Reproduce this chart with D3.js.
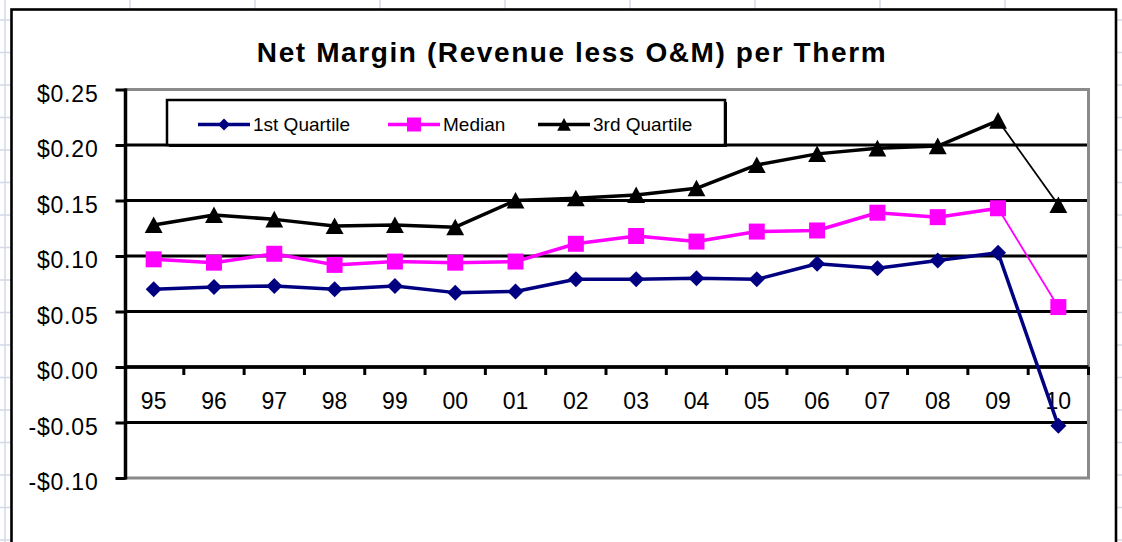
<!DOCTYPE html>
<html>
<head>
<meta charset="utf-8">
<script src="https://cdn.jsdelivr.net/npm/d3@7"></script>
<style>
  html, body { margin: 0; padding: 0; background: #fff; }
  svg { display: block; font-family: "Liberation Sans", Arial, sans-serif; }
</style>
</head>
<body>
<div id="chart"></div>
<script>
// データ
const years = ['95', '96', '97', '98', '99', '00', '01', '02', '03', '04', '05', '06', '07', '08', '09', '10'];
const firstQuartile = [0.070, 0.072, 0.073, 0.070, 0.073, 0.067, 0.068, 0.079, 0.079, 0.080, 0.079, 0.093, 0.089, 0.096, 0.103, -0.053];
const median = [0.097, 0.094, 0.102, 0.092, 0.095, 0.094, 0.095, 0.111, 0.118, 0.113, 0.122, 0.123, 0.139, 0.135, 0.143, 0.054];
const thirdQuartile = [0.128, 0.137, 0.133, 0.127, 0.128, 0.126, 0.150, 0.152, 0.155, 0.161, 0.182, 0.192, 0.197, 0.199, 0.222, 0.146];
const yTicks = [0.25, 0.20, 0.15, 0.10, 0.05, 0.00, -0.05, -0.10];

const W = 1122, H = 542;
const plot = { left: 123.5, right: 1088.5, top: 89.5, bottom: 478 };

const svg = d3.select('#chart').append('svg')
    .attr('width', W)
    .attr('height', H);

svg.append('rect').attr('width', W).attr('height', H).attr('fill', '#fff');

// 背景のスプレッドシート罫線
const sheet = svg.append('g').attr('stroke', '#d3d9e6').attr('stroke-width', 1.5);
for (let gx = 5; gx < W; gx += 125) {
    sheet.append('line').attr('x1', gx).attr('x2', gx).attr('y1', 0).attr('y2', H);
}
for (let gy = 20; gy < H + 5; gy += 32.5) {
    sheet.append('line').attr('x1', 0).attr('x2', W).attr('y1', gy).attr('y2', gy);
}

// チャート外枠
svg.append('rect')
    .attr('x', 11.5).attr('y', 9.5)
    .attr('width', 1104.5).attr('height', 600)
    .attr('fill', '#fff')
    .attr('stroke', '#000')
    .attr('stroke-width', 2.6);

// タイトル
svg.append('text')
    .attr('x', 572)
    .attr('y', 61.5)
    .attr('text-anchor', 'middle')
    .style('font-size', '28px')
    .style('font-weight', 'bold')
    .style('letter-spacing', '1.6px')
    .text('Net Margin (Revenue less O&M) per Therm');

const x = d3.scaleBand().domain(years).range([plot.left, plot.right]);
const y = d3.scaleLinear().domain([-0.10, 0.25]).range([plot.bottom, plot.top]);
const cx = d => x(d) + x.bandwidth() / 2;

// グリッド線
svg.append('g')
    .selectAll('line')
    .data(yTicks.filter(v => v < 0.25 && v > -0.10))
    .enter()
    .append('line')
    .attr('x1', 125).attr('x2', plot.right)
    .attr('y1', d => y(d)).attr('y2', d => y(d))
    .attr('stroke', '#000')
    .attr('stroke-width', 3);

// プロットエリアの枠（灰色）
svg.append('path')
    .attr('d', `M125,${plot.top}H${plot.right}V${plot.bottom}H125`)
    .attr('fill', 'none')
    .attr('stroke', '#8a8a8a')
    .attr('stroke-width', 3);

// Y軸
const yAxis = svg.append('g')
    .attr('transform', 'translate(125.5,0)')
    .call(d3.axisLeft(y)
        .tickValues(yTicks)
        .tickSize(10)
        .tickPadding(17)
        .tickFormat(v => (v < 0 ? '-$' : '$') + Math.abs(v).toFixed(2)));
yAxis.select('.domain').attr('stroke', '#000').attr('stroke-width', 3.5)
    .attr('d', `M0,${plot.top - 1}V${plot.bottom + 1.5}`);
yAxis.selectAll('.tick line').attr('stroke', '#000').attr('stroke-width', 3);
yAxis.selectAll('.tick text')
    .attr('dy', '0.5em')
    .attr('fill', '#000')
    .style('font-size', '23px')
    .style('letter-spacing', '0.8px')
    .style('font-family', '"Liberation Sans", Arial, sans-serif');

// X軸（0の位置）
const xAxis = svg.append('g')
    .attr('transform', `translate(0,${y(0)})`)
    .call(d3.axisBottom(x).tickSize(0).tickPadding(26));
xAxis.select('.domain').attr('stroke', '#000').attr('stroke-width', 3.5)
    .attr('d', `M125,0H${plot.right}`);
xAxis.selectAll('.tick text')
    .attr('fill', '#000')
    .style('font-size', '23px')
    .style('font-family', '"Liberation Sans", Arial, sans-serif');
xAxis.append('g')
    .selectAll('line')
    .data(years.slice(1).map(d => x(d)).concat([plot.right]))
    .enter()
    .append('line')
    .attr('x1', d => d).attr('x2', d => d)
    .attr('y1', 0).attr('y2', 8)
    .attr('stroke', '#000')
    .attr('stroke-width', 3);

// マーカー形状
function markerPath(type, s) {
    if (type === 'diamond') {
        return `M0,${-s}L${s},0L0,${s}L${-s},0Z`;
    } else if (type === 'square') {
        return `M${-s},${-s}H${s}V${s}H${-s}Z`;
    }
    return `M0,${-s}L${s * 1.05},${s * 0.95}H${-s * 1.05}Z`;
}

const series = [
    { name: '1st Quartile', values: firstQuartile, color: '#000080', marker: 'diamond', size: 8, lastThin: false },
    { name: 'Median', values: median, color: '#ff00ff', marker: 'square', size: 8, lastThin: true },
    { name: '3rd Quartile', values: thirdQuartile, color: '#000', marker: 'triangle', size: 8.5, lastThin: true }
];

const line = d3.line().x(d => cx(d.year)).y(d => y(d.value));

series.slice().reverse().forEach(s => {
    const pts = years.map((yr, i) => ({ year: yr, value: s.values[i] }));
    const g = svg.append('g');
    const mainPts = s.lastThin ? pts.slice(0, pts.length - 1) : pts;
    g.append('path')
        .datum(mainPts)
        .attr('d', line)
        .attr('fill', 'none')
        .attr('stroke', s.color)
        .attr('stroke-width', 3.5)
        .attr('stroke-linejoin', 'round');
    if (s.lastThin) {
        g.append('path')
            .datum(pts.slice(pts.length - 2))
            .attr('d', line)
            .attr('fill', 'none')
            .attr('stroke', s.color)
            .attr('stroke-width', 1.8);
    }
    g.selectAll('path.marker')
        .data(pts)
        .enter()
        .append('path')
        .attr('class', 'marker')
        .attr('d', markerPath(s.marker, s.size))
        .attr('transform', d => `translate(${cx(d.year)},${y(d.value)})`)
        .attr('fill', s.color);
});

// 凡例
const legend = svg.append('g');
legend.append('rect')
    .attr('x', 169).attr('y', 102)
    .attr('width', 558).attr('height', 45)
    .attr('fill', '#000');
legend.append('rect')
    .attr('x', 167).attr('y', 100)
    .attr('width', 558).attr('height', 45)
    .attr('fill', '#fff')
    .attr('stroke', '#000')
    .attr('stroke-width', 2.5);

const legendItems = [
    { x: 198, size: 6 },
    { x: 388, size: 7 },
    { x: 538, size: 6.5 }
];
series.forEach((s, i) => {
    const li = legendItems[i];
    const ly = 124.5;
    legend.append('line')
        .attr('x1', li.x).attr('x2', li.x + 52)
        .attr('y1', ly).attr('y2', ly)
        .attr('stroke', s.color)
        .attr('stroke-width', 3.5);
    legend.append('path')
        .attr('d', markerPath(s.marker, li.size))
        .attr('transform', `translate(${li.x + 26},${ly})`)
        .attr('fill', s.color);
    legend.append('text')
        .attr('x', li.x + 55)
        .attr('y', ly + 6.5)
        .style('font-size', '19px')
        .text(s.name);
});
</script>
</body>
</html>
